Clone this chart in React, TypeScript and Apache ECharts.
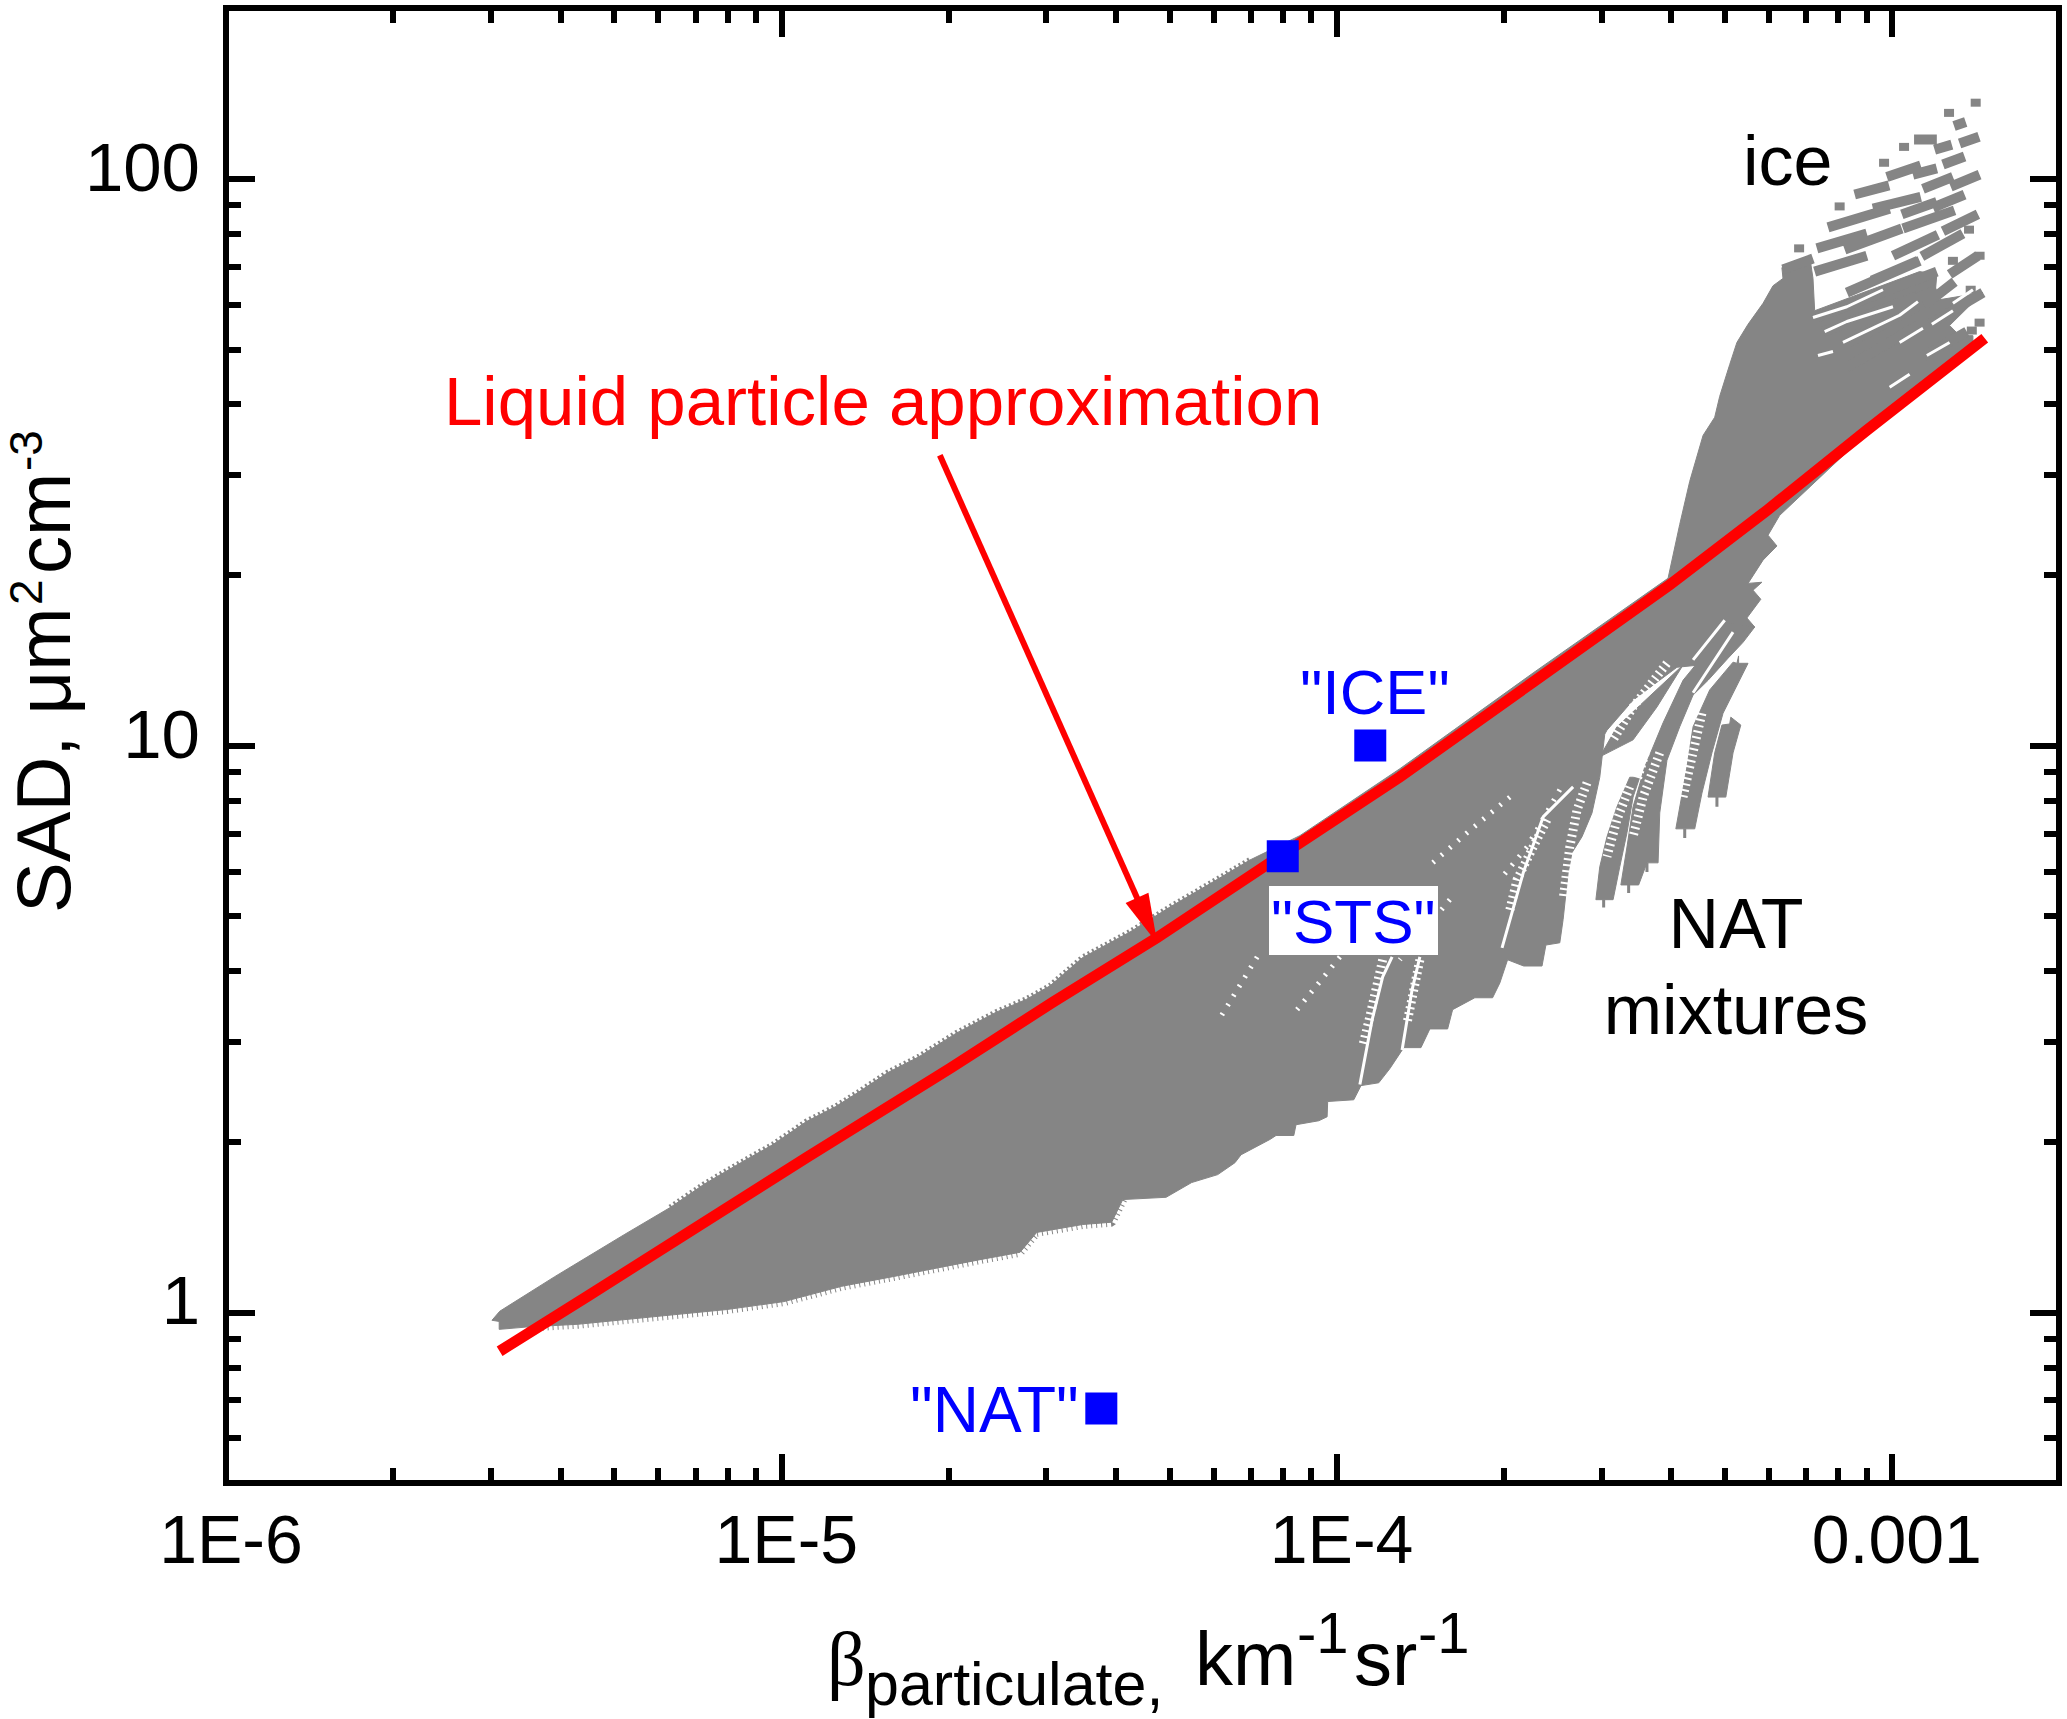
import React, { useEffect, useRef } from "react";
import * as echarts from "echarts";

// Axis values
const xMin = 1e-6;
const xMax = 2e-3;
const yMin = 0.5;
const yMax = 200;
const xMajorTicks = [1e-6, 1e-5, 1e-4, 1e-3];
const xTickLabels = ["1E-6", "1E-5", "1E-4", "0.001"];
const xMinorTicks = [
  2e-6, 3e-6, 4e-6, 5e-6, 6e-6, 7e-6, 8e-6, 9e-6,
  2e-5, 3e-5, 4e-5, 5e-5, 6e-5, 7e-5, 8e-5, 9e-5,
  2e-4, 3e-4, 4e-4, 5e-4, 6e-4, 7e-4, 8e-4, 9e-4,
];
const yMajorTicks = [1, 10, 100];
const yTickLabels = ["1", "10", "100"];
const yMinorTicks = [0.6, 0.7, 0.8, 0.9, 2, 3, 4, 5, 6, 7, 8, 9, 20, 30, 40, 50, 60, 70, 80, 90];

// Liquid particle approximation curve [beta, SAD]
const liquidCurve = [
  [3.11e-6, 0.854], [4.5e-6, 1.071], [1.11e-5, 1.875], [2.02e-5, 2.7], [3.09e-5, 3.53],
  [4.75e-5, 4.58], [7.49e-5, 6.16], [1.3e-4, 8.8], [2.26e-4, 12.94], [3.98e-4, 19.2],
  [5.96e-4, 26.0], [9.02e-4, 36.0], [1.47e-3, 52.3],
];

// Reference points [beta, SAD]
const natPoint = [3.77e-5, 0.677];
const stsPoint = [8.0e-5, 6.38];
const icePoint = [1.15e-4, 10];

// Annotation arrow [beta, SAD]
const arrowFrom = [1.93e-5, 32.5];
const arrowTo = [4.56e-5, 4.91];

// Envelopes of the model cloud as [log10 beta, log10 SAD]
const cloudUpperEdge = [
  [-5.521,-0.014],[-5.507,0.002],[-5.408,0.063],[-5.283,0.137],[-5.2,0.185],[-5.139,0.226],[-5.073,0.264],[-5.015,0.296],
  [-4.954,0.337],[-4.902,0.363],[-4.86,0.389],[-4.808,0.423],[-4.752,0.451],[-4.684,0.493],[-4.612,0.53],[-4.559,0.552],
  [-4.516,0.576],[-4.457,0.626],[-4.372,0.671],[-4.3,0.715],[-4.223,0.759],[-4.156,0.798],
];
const cloudRightEdge = [
  [-4.066,0.841],[-3.886,0.959],
  [-3.646,1.128],[-3.403,1.295],[-3.382,1.39],[-3.364,1.466],[-3.34,1.547],[-3.319,1.579],[-3.31,1.616],[-3.292,1.672],
  [-3.279,1.711],[-3.259,1.743],[-3.232,1.78],[-3.214,1.811],[-3.196,1.824],[-3.198,1.843],[-3.148,1.863],[-3.142,1.824],
  [-3.139,1.767],[-2.95,1.836],[-2.919,1.831],[-2.923,1.785],[-2.836,1.799],[-2.896,1.741],[-2.878,1.723],[-2.854,1.723],
  [-2.854,1.706],[-3.045,1.551],[-3.202,1.406],[-3.223,1.371],[-3.207,1.352],[-3.232,1.327],[-3.259,1.286],[-3.234,1.288],
  [-3.25,1.274],[-3.236,1.258],[-3.261,1.225],[-3.247,1.209],[-3.346,1.142],[-3.387,1.138],[-3.466,1.08],[-3.513,1.027],
  [-3.517,1.02],[-3.526,0.944],[-3.54,0.881],[-3.558,0.839],[-3.576,0.811],[-3.583,0.775],[-3.592,0.693],[-3.598,0.652],
  [-3.623,0.648],[-3.63,0.611],[-3.663,0.611],[-3.692,0.622],[-3.706,0.581],[-3.719,0.555],[-3.751,0.555],[-3.791,0.534],
  [-3.8,0.5],[-3.832,0.5],[-3.848,0.467],[-3.879,0.467],[-3.904,0.43],[-3.924,0.405],[-3.956,0.4],[-3.969,0.375],
  [-4.016,0.372],[-4.017,0.345],[-4.032,0.338],[-4.073,0.331],[-4.077,0.312],[-4.109,0.312],[-4.12,0.305],[-4.172,0.278],
  [-4.183,0.264],[-4.214,0.243],[-4.261,0.229],[-4.307,0.203],
];
const cloudLowerEdge = [
  [-4.385,0.199],[-4.405,0.159],[-4.457,0.155],[-4.54,0.141],
  [-4.57,0.106],[-4.642,0.093],[-4.705,0.081],[-4.799,0.063],[-4.891,0.046],[-4.995,0.019],[-5.098,0.005],[-5.222,-0.007],
  [-5.366,-0.021],[-5.46,-0.026],[-5.508,-0.03],[-5.508,-0.016],
];
const cloudStrip = [[-3.376,1.142],[-3.495,1.033],[-3.526,0.98],[-3.466,1.01],[-3.423,1.068]];
const lobeE = [[-3.454,0.944],[-3.472,0.944],[-3.495,0.892],[-3.513,0.839],[-3.526,0.786],[-3.533,0.728],[-3.502,0.728],[-3.49,0.786],[-3.477,0.846],[-3.466,0.909]];
const lobeC = [[-3.247,1.209],[-3.268,1.182],[-3.295,1.154],[-3.331,1.115],[-3.358,1.089],[-3.382,1.033],[-3.405,0.974],[-3.418,0.881],[-3.421,0.793],[-3.441,0.793],[-3.456,0.754],[-3.488,0.754],[-3.477,0.821],[-3.466,0.892],[-3.445,0.962],[-3.412,1.04],[-3.376,1.115],[-3.346,1.151],[-3.295,1.216]];
const lobeB = [[-3.259,1.145],[-3.276,1.145],[-3.276,1.158],[-3.279,1.145],[-3.286,1.147],[-3.328,1.098],[-3.358,1.033],[-3.369,0.962],[-3.389,0.853],[-3.355,0.853],[-3.342,0.916],[-3.324,0.987],[-3.304,1.057]];
const lobeA = [[-3.306,1.036],[-3.292,1.038],[-3.29,1.05],[-3.272,1.036],[-3.286,0.987],[-3.299,0.909],[-3.331,0.909],[-3.319,0.987]];
const lobeStems = [
  [[-3.315,0.909],[-3.315,0.892]],[[-3.373,0.853],[-3.373,0.837]],[[-3.519,0.728],[-3.519,0.714]],
  [[-3.474,0.754],[-3.474,0.74]],[[-3.441,0.793],[-3.441,0.777]],
];

// Ice streaks [log10 beta, log10 SAD], one pair per streak
const iceStreaks = [
  [[-2.888,2.093],[-2.867,2.1]],[[-2.96,2.069],[-2.919,2.069]],[[-2.923,2.051],[-2.892,2.06]],[[-2.878,2.062],[-2.843,2.074]],
  [[-2.908,2.025],[-2.869,2.039]],[[-3.009,2.003],[-2.948,2.023]],[[-2.962,2.007],[-2.919,2.018]],[[-2.944,1.982],[-2.89,2.003]],
  [[-2.894,1.986],[-2.842,2.007]],[[-3.067,1.972],[-3.005,1.988]],[[-3.034,1.947],[-2.948,1.968]],[[-2.982,1.937],[-2.919,1.959]],
  [[-2.926,1.949],[-2.869,1.972]],[[-3.115,1.914],[-3.004,1.947]],[[-3.135,1.877],[-3.045,1.903]],[[-3.085,1.875],[-2.982,1.912]],
  [[-2.98,1.912],[-2.887,1.944]],[[-2.908,1.907],[-2.845,1.937]],[[-2.998,1.864],[-2.917,1.901]],[[-2.946,1.863],[-2.872,1.903]],
  [[-3.196,1.84],[-3.142,1.859]],[[-3.139,1.836],[-3.045,1.864]],[[-3.036,1.82],[-2.953,1.855]],[[-3.081,1.799],[-2.95,1.855]],
  [[-3.135,1.755],[-2.919,1.836]],[[-2.896,1.831],[-2.845,1.864]],[[-3.124,1.73],[-2.955,1.792]],[[-3.081,1.736],[-2.919,1.804]],
  [[-2.937,1.78],[-2.887,1.818]],[[-2.932,1.743],[-2.836,1.799]],[[-2.944,1.686],[-2.865,1.73]],[[-3.076,1.711],[-2.944,1.78]],
  [[-3.081,1.667],[-2.95,1.743]],
];
const iceDots = [
  [-2.849,2.134],[-2.897,2.116],[-2.978,2.056],[-3.014,2.028],[-3.094,1.951],[-3.167,1.877],[-2.861,1.91],[-2.89,1.855],[-2.842,1.864],[-2.858,1.804],[-2.842,1.746],[-2.856,1.732],
];
// Thin gaps inside the dense part of the ice branch
const iceGaps = [
  [[-3.142,1.755],[-3.081,1.774],[-3.016,1.804]],
  [[-3.121,1.73],[-3.081,1.748],[-2.998,1.774]],
  [[-3.088,1.711],[-2.986,1.759],[-2.953,1.783]],
  [[-3.133,1.688],[-3.106,1.695]],
  [[-3.004,1.632],[-2.968,1.655]],
  [[-2.937,1.688],[-2.896,1.711]],
  [[-2.928,1.743],[-2.89,1.767]],
  [[-2.986,1.711],[-2.944,1.736]],
  [[-2.89,1.78],[-2.854,1.804]],
];

// Gaps between the NAT mixture families [log10 beta, log10 SAD]
const cloudGaps = [
  [[-3.958,0.402],[-3.936,0.516],[-3.917,0.592],[-3.9,0.627]],
  [[-3.882,0.463],[-3.864,0.569],[-3.85,0.627]],
  [[-3.702,0.643],[-3.664,0.775],[-3.628,0.874],[-3.574,0.927]],
  [[-3.301,1.221],[-3.358,1.151]],
  [[-3.286,1.2],[-3.358,1.093]],
];
// Runs where the marks thin into a hatch
const hatchRuns = [
  [[-3.342,1.057],[-3.364,0.962],[-3.376,0.909]],
  [[-3.418,0.987],[-3.448,0.909],[-3.466,0.839]],
  [[-3.472,0.927],[-3.495,0.869],[-3.513,0.804]],
  [[-3.405,1.145],[-3.466,1.068],[-3.502,1.01]],
  [[-3.441,0.997],[-3.459,0.939]],
  [[-3.549,0.934],[-3.567,0.886],[-3.58,0.821],[-3.592,0.728]],
  [[-3.621,0.869],[-3.646,0.821],[-3.675,0.763],[-3.688,0.71]],
  [[-3.917,0.622],[-3.94,0.522],[-3.953,0.469]],
  [[-3.85,0.622],[-3.873,0.511]],
];
const speckleRuns = [
  [[-3.688,0.909],[-3.765,0.846],[-3.827,0.793]],
  [[-3.598,0.922],[-3.657,0.821],[-3.706,0.763]],
  [[-4.143,0.627],[-4.215,0.511]],
  [[-3.994,0.627],[-4.071,0.534]],
  [[-3.796,0.728],[-3.886,0.622]],
];

const GREY = "#858585";
const RED = "#ff0000";
const BLUE = "#0000ff";
const SANS = "Liberation Sans";

const fromLog = (p: number[]) => [Math.pow(10, p[0]), Math.pow(10, p[1])];

function polygonSeries(points: number[][], name: string) {
  const data = points.map(fromLog);
  return {
    type: "custom",
    name,
    z: 2,
    silent: true,
    clip: false,
    data,
    encode: { x: 0, y: 1 },
    renderItem: (params: any, api: any) => {
      if (params.dataIndex !== 0) return null;
      return {
        type: "polygon",
        shape: { points: data.map((d) => api.coord(d)) },
        style: { fill: GREY, stroke: GREY, lineWidth: 1 },
      };
    },
  };
}

function breakLines(lines: number[][][]) {
  const out: any[] = [];
  lines.forEach((l) => {
    l.forEach((p) => out.push(fromLog(p)));
    out.push(["-", "-"]);
  });
  return out;
}

function lineSeries(name: string, lines: number[][][], z: number, lineStyle: any) {
  return {
    type: "line",
    name,
    z,
    silent: true,
    showSymbol: false,
    connectNulls: false,
    data: breakLines(lines),
    lineStyle,
  };
}

function txt(text: string, x: number, baseline: number, size: number, fill = "#000", family = SANS, align = "left") {
  return {
    type: "text",
    z: 60,
    x,
    y: baseline - 0.3465 * size,
    style: { text, fill, fontSize: size, fontFamily: family, textAlign: align, verticalAlign: "middle" },
  };
}

function rotTxt(text: string, baselineX: number, startY: number, size: number) {
  return {
    type: "text",
    z: 60,
    x: baselineX - 0.3465 * size,
    y: startY,
    rotation: Math.PI / 2,
    style: { text, fill: "#000", fontSize: size, fontFamily: SANS, textAlign: "left", verticalAlign: "middle" },
  };
}

const tickStyle = { color: "#000", width: 6, cap: "butt" };

function labelFor(value: number, ticks: number[], labels: string[]) {
  let best = 0;
  ticks.forEach((t, i) => {
    if (Math.abs(Math.log10(t / value)) < Math.abs(Math.log10(ticks[best] / value))) best = i;
  });
  return labels[best];
}

function xAxis(position: string, ticks: number[], len: number, labels: boolean) {
  return {
    type: "log",
    logBase: 10,
    min: xMin,
    max: xMax,
    position,
    axisLine: { show: false, onZero: false },
    splitLine: { show: false },
    minorTick: { show: false },
    axisTick: { show: true, inside: true, length: len, lineStyle: tickStyle, customValues: ticks },
    axisLabel: labels
      ? {
          show: true,
          customValues: xMajorTicks,
          formatter: (v: number) => labelFor(v, xMajorTicks, xTickLabels),
          fontSize: 68,
          fontFamily: SANS,
          color: "#000",
          margin: 22,
          padding: [0, 0, 0, 10],
          hideOverlap: false,
        }
      : { show: false },
  };
}

function yAxis(position: string, ticks: number[], len: number, labels: boolean) {
  return {
    type: "log",
    logBase: 10,
    min: yMin,
    max: yMax,
    position,
    axisLine: { show: false, onZero: false },
    splitLine: { show: false },
    minorTick: { show: false },
    axisTick: { show: true, inside: true, length: len, lineStyle: tickStyle, customValues: ticks },
    axisLabel: labels
      ? {
          show: true,
          customValues: yMajorTicks,
          formatter: (v: number) => labelFor(v, yMajorTicks, yTickLabels),
          fontSize: 69,
          fontFamily: SANS,
          color: "#000",
          margin: 26,
          verticalAlign: "bottom",
          padding: [0, 0, -23, 0],
          hideOverlap: false,
        }
      : { show: false },
  };
}

export default function App() {
  const ref = useRef<HTMLDivElement>(null);
  useEffect(() => {
    if (!ref.current) return;
    const chart = echarts.init(ref.current, undefined, { renderer: "svg" });
    chart.setOption({
      animation: false,
      backgroundColor: "#fff",
      grid: { left: 226, right: 8, top: 8, bottom: 236, show: true, borderColor: "#000", borderWidth: 6, backgroundColor: "transparent" },
      xAxis: [
        xAxis("bottom", xMajorTicks, 29, true),
        xAxis("bottom", xMinorTicks, 15, false),
        xAxis("top", xMajorTicks, 29, false),
        xAxis("top", xMinorTicks, 15, false),
      ],
      yAxis: [
        yAxis("left", yMajorTicks, 29, true),
        yAxis("left", yMinorTicks, 15, false),
        yAxis("right", yMajorTicks, 29, false),
        yAxis("right", yMinorTicks, 15, false),
      ],
      series: [
        polygonSeries([...cloudUpperEdge, ...cloudRightEdge, ...cloudLowerEdge], "cloud"),
        polygonSeries(cloudStrip, "strip"),
        polygonSeries(lobeE, "lobe E"),
        polygonSeries(lobeC, "lobe C"),
        polygonSeries(lobeB, "lobe B"),
        polygonSeries(lobeA, "lobe A"),
        lineSeries("stems", lobeStems, 3, { color: GREY, width: 3, cap: "butt" }),
        lineSeries("lower teeth", [cloudLowerEdge.slice(0, 14)], 1, { color: GREY, width: 9, type: [1, 4], cap: "butt" }),
        lineSeries("upper teeth", [cloudUpperEdge.slice(4)], 1, { color: GREY, width: 6, type: [2, 3], cap: "butt" }),
        lineSeries("ice", iceStreaks, 3, { color: GREY, width: 10, cap: "butt" }),
        {
          type: "scatter",
          name: "ice dots",
          z: 3,
          silent: true,
          symbol: "rect",
          symbolSize: [10, 8],
          itemStyle: { color: GREY, opacity: 1 },
          data: iceDots.map(fromLog),
        },
        lineSeries("ice gaps", iceGaps, 4, { color: "#fff", width: 3, cap: "butt" }),
        lineSeries("gaps", cloudGaps, 4, { color: "#fff", width: 3, cap: "butt" }),
        lineSeries("hatch", hatchRuns, 4, { color: "#fff", width: 9, type: [2, 4], cap: "butt" }),
        lineSeries("speckle", speckleRuns, 4, { color: "#fff", width: 5, type: [2, 9], cap: "butt" }),
        {
          type: "line",
          name: "Liquid particle approximation",
          z: 5,
          silent: true,
          showSymbol: false,
          data: liquidCurve,
          lineStyle: { color: RED, width: 11, cap: "butt", join: "miter" },
          markLine: {
            silent: true,
            animation: false,
            symbol: ["none", "triangle"],
            symbolSize: [25, 50],
            label: { show: false },
            lineStyle: { color: RED, width: 6, type: "solid" },
            itemStyle: { color: RED },
            data: [[{ coord: arrowFrom }, { coord: arrowTo }]],
          },
        },
        {
          type: "scatter",
          name: "points",
          z: 6,
          silent: true,
          symbol: "rect",
          symbolSize: 32,
          itemStyle: { color: BLUE, opacity: 1 },
          data: [natPoint, stsPoint, icePoint],
        },
      ],
      graphic: [
        { type: "rect", z: 55, shape: { x: 1269, y: 886, width: 169, height: 69 }, style: { fill: "#fff" } },
        txt('"ICE"', 1300, 714, 63, BLUE),
        txt('"STS"', 1271, 943, 62, BLUE),
        txt('"NAT"', 910, 1432, 64, BLUE),
        txt("ice", 1743, 185, 70),
        txt("NAT", 1736, 948, 70, "#000", SANS, "center"),
        txt("mixtures", 1736, 1034, 70, "#000", SANS, "center"),
        txt("Liquid particle approximation", 444, 425, 69, RED),
        txt("β", 827, 1685, 76, "#000", "Liberation Serif"),
        txt("particulate,", 865, 1705, 61),
        txt("km", 1195, 1685, 76),
        txt("-1", 1297, 1653, 58),
        txt("sr", 1354, 1685, 76),
        txt("-1", 1418, 1653, 58),
        rotTxt("SAD, μm", 69.5, 913, 76),
        rotTxt("2", 42, 605, 46),
        rotTxt("cm", 69.5, 574, 76),
        rotTxt("-3", 42, 471, 46),
      ],
    });
    return () => chart.dispose();
  }, []);
  return <div ref={ref} style={{ position: "absolute", left: 0, top: 0, width: 2067, height: 1719 }} />;
}
